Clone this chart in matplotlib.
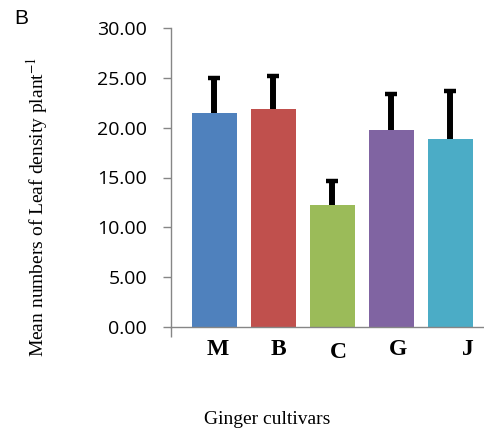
import numpy as np
import matplotlib
matplotlib.use("Agg")
import matplotlib.pyplot as plt

plt.rcParams['mathtext.fontset'] = 'stix'

# Leaf density per cultivar (mean and upper error)
cultivars = ['M', 'B', 'C', 'G', 'J']
means = [21.49, 21.89, 12.25, 19.78, 18.88]
errors = [3.5, 3.3, 2.4, 3.56, 4.83]
colors = ['#4F81BD', '#C0504D', '#9BBB59', '#8064A2', '#4BACC6']
y_ticks = [0, 5, 10, 15, 20, 25, 30]

fig = plt.figure(figsize=(4.84, 4.37), dpi=100)
ax = fig.add_axes([170.5 / 484, (437 - 327) / 437, (484 - 170.5) / 484, (327 - 28) / 437])

x = np.arange(len(cultivars))
ax.bar(x, means, width=0.76, color=colors, zorder=2)
eb = ax.errorbar(x, means, yerr=[np.zeros(len(errors)), errors], fmt='none',
                 ecolor='black', elinewidth=4.3, capsize=4, capthick=3.2, zorder=3)
# only the upper cap is shown
eb[1][0].set_visible(False)

left = -0.746
ax.set_xlim(left, 4.57)
ax.set_ylim(0, 30)

axis_grey = '#868686'
for s in ['top', 'right']:
    ax.spines[s].set_visible(False)
for s in ['left', 'bottom']:
    ax.spines[s].set_color(axis_grey)
    ax.spines[s].set_linewidth(1.0)

ax.set_yticks(y_ticks)
ax.set_yticklabels([f"{v:.2f}" for v in y_ticks], fontsize=14, family='Open Sans')
ax.tick_params(axis='y', direction='out', length=6, color=axis_grey, width=1, pad=11)

# lone outward tick where the category axis begins
ax.set_xticks([left])
ax.set_xticklabels([''])
ax.tick_params(axis='x', direction='out', length=7, color=axis_grey, width=1)

# category names, nudged as in the original layout
nudge_x = [0.06, 0.08, 0.1, 0.11, 0.3]
nudge_y = [0, 0, -2.5, 0, 0]
for i, name in enumerate(cultivars):
    ax.annotate(name, xy=(x[i] + nudge_x[i], 0), xycoords=('data', 'axes fraction'),
                xytext=(0, -16 + nudge_y[i]), textcoords='offset points',
                ha='center', va='center', fontsize=17, fontweight='bold',
                family='Liberation Serif')

fig.text(267 / 484, 1 - 420 / 437, 'Ginger cultivars', ha='center', va='center',
         fontsize=14, family='Liberation Serif')
fig.text(37 / 484, 1 - 207 / 437, r'Mean numbers of Leaf density plant$^{-1}$',
         rotation=90, ha='center', va='center', fontsize=14, family='Liberation Serif')
fig.text(21 / 484, 1 - 18 / 437, 'B', ha='center', va='center', fontsize=15,
         family='Liberation Sans')

fig.savefig('out.png', dpi=100)
